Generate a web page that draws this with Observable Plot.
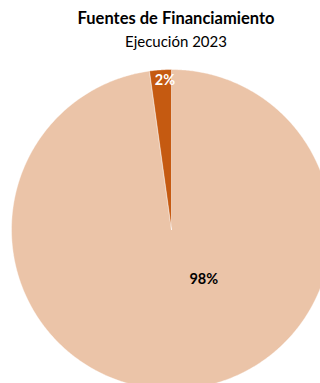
<!DOCTYPE html>
<html>
<head>
<meta charset="utf-8">
<script src="https://cdn.jsdelivr.net/npm/d3@7"></script>
<script src="https://cdn.jsdelivr.net/npm/@observablehq/plot@0.6"></script>
<style>
  html, body { margin: 0; padding: 0; background: #fff; overflow: hidden; }
  #head { height: 60px; position: relative; font-family: Lato, "Open Sans", sans-serif; color: #000; }
  #title { position: absolute; left: 0; width: 352px; top: 8px; text-align: center; font-weight: bold; font-size: 16.5px; }
  #subtitle { position: absolute; left: 0; width: 352px; top: 32px; text-align: center; font-size: 15px; }
  #chart svg { display: block; overflow: visible; }
</style>
</head>
<body>
<div id="head">
  <div id="title">Fuentes de Financiamiento</div>
  <div id="subtitle">Ejecución 2023</div>
</div>
<div id="chart"></div>
<script>
// Data
const categories = ["Recursos Ordinarios", "Otras Fuentes"];
const shares = [97.8, 2.2];
const labels = ["98%", "2%"];

// Style / layout (not data)
const colors = ["#EBC4A8", "#C55A11"];
const labelColors = ["#000000", "#FFFFFF"];
const labelPlacement = [{angle: 147, r: 0.37}, {angle: -2.5, r: 0.93}];

const total = d3.sum(shares);
let acc = 0;
const polys = [];
const texts = [];
categories.forEach((c, i) => {
  const a0 = acc / total * 360;
  acc += shares[i];
  const a1 = acc / total * 360;
  const pts = [{name: c, x: 0, y: 0}];
  const n = Math.max(2, Math.ceil((a1 - a0) / 0.5));
  for (let k = 0; k <= n; k++) {
    const a = (a0 + (a1 - a0) * k / n) * Math.PI / 180;
    pts.push({name: c, x: Math.sin(a), y: Math.cos(a)});
  }
  pts.push({name: c, x: 0, y: 0});
  polys.push(...pts);
  const p = labelPlacement[i];
  const la = p.angle * Math.PI / 180;
  texts.push({name: c, label: labels[i], x: p.r * Math.sin(la), y: p.r * Math.cos(la), color: labelColors[i]});
});

const cy = 169, R = 160, cx = 171;
const chart = Plot.plot({
  width: 320,
  height: 340,
  margin: 0,
  x: {domain: [-1, 1], range: [cx - R, cx + R], axis: null},
  y: {domain: [-1, 1], range: [cy + R, cy - R], axis: null},
  color: {domain: categories, range: colors},
  style: {background: "transparent", overflow: "visible"},
  marks: [
    Plot.line(polys, {x: "x", y: "y", z: "name", fill: "name", stroke: "#ffffff", strokeWidth: 0.6, strokeOpacity: 0.7, curve: "linear"}),
    Plot.text(texts, {x: "x", y: "y", text: "label", fill: d => d.color, fontWeight: "bold", fontSize: 14.5, fontFamily: "Lato, 'Open Sans', sans-serif"})
  ]
});
document.getElementById("chart").appendChild(chart);
</script>
</body>
</html>
